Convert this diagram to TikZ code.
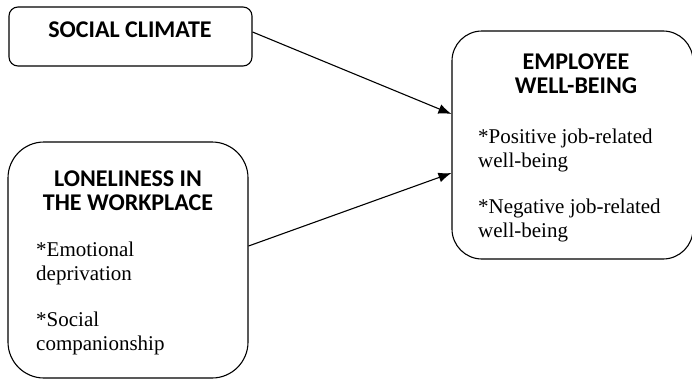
\documentclass[tikz,border=0pt]{standalone}
\usepackage{fontspec}
\setmainfont{Liberation Serif}
\newfontfamily\headfont{Carlito}
\usetikzlibrary{arrows.meta,positioning}

\begin{document}
\begin{tikzpicture}[
    x=1pt, y=-1pt,
    block/.style={
        rectangle,
        draw,
        line width=1.1pt,
        inner sep=0pt
    },
    heading/.style={
        align=center,
        inner sep=0pt,
        anchor=base,
        font=\headfont\bfseries\fontsize{24}{24}\selectfont
    },
    itemtext/.style={
        align=left,
        inner sep=0pt,
        anchor=base west,
        font=\fontsize{21}{24}\selectfont
    },
    arrow/.style={
        -{Latex[length=13pt,width=10pt]},
        line width=1.1pt
    }
]

\useasboundingbox (0,0) rectangle (692,380);

\node[block, rounded corners=9pt, minimum width=243pt, minimum height=59pt] (social) at (130.5,36.5) {};
\node[block, rounded corners=36pt, minimum width=240pt, minimum height=236pt] (lonely) at (128,260) {};
\node[block, rounded corners=30pt, minimum width=241pt, minimum height=228pt] (wellbeing) at (572.5,145) {};

% base anchor sits on the last line
\node[heading] (socialhead) at (130,37) {SOCIAL CLIMATE};
\node[heading] (lonelyhead) at (128,210) {LONELINESS IN\\THE WORKPLACE};
\node[heading] (wellhead) at (576,93) {EMPLOYEE\\WELL-BEING};

\node[itemtext] (lonelyitems) at (36,350) {*Emotional\\deprivation\\[22pt]*Social\\companionship};
\node[itemtext] (wellitems) at (478,237) {*Positive job-related\\well-being\\[22pt]*Negative job-related\\well-being};

\draw[arrow] ([yshift=4.5pt]social.east) -- ([yshift=31pt]wellbeing.west);
\draw[arrow] ([yshift=14pt]lonely.east) -- ([yshift=-28pt]wellbeing.west);

\end{tikzpicture}
\end{document}
